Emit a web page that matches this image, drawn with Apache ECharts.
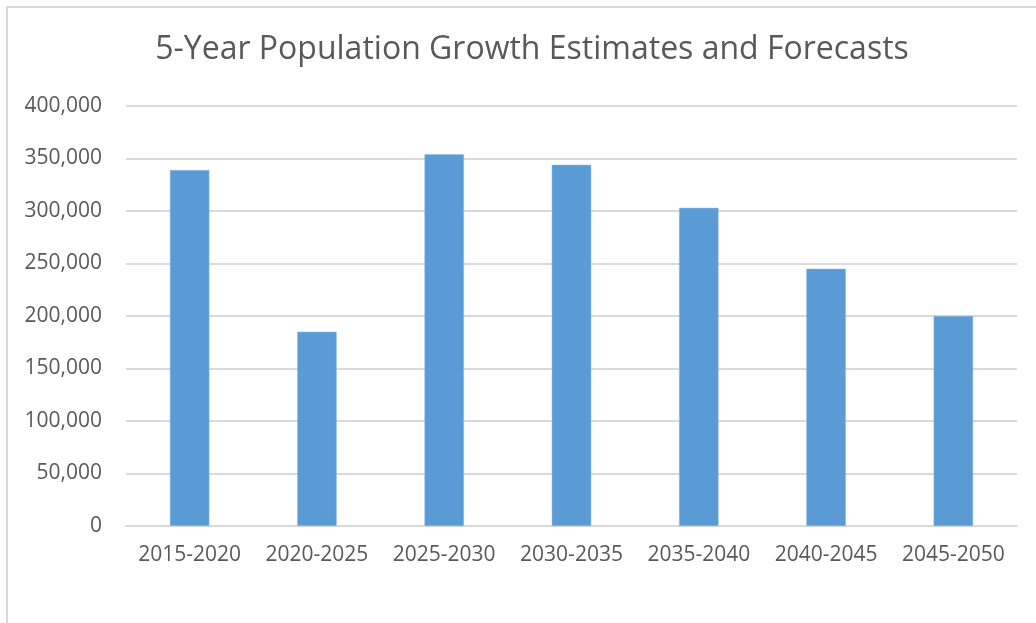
<!DOCTYPE html>
<html>
<head>
<meta charset="utf-8">
<script src="https://cdn.jsdelivr.net/npm/echarts@6/dist/echarts.min.js"></script>
<style>
html,body{margin:0;padding:0;background:#fff;}
#frame{position:absolute;left:6px;top:6px;width:1100px;height:700px;border-top:2px solid #d9d9d9;border-left:2px solid #d9d9d9;}
#chart{position:absolute;left:0;top:0;width:1036px;height:623px;}
</style>
</head>
<body>
<div id="frame"></div>
<div id="chart"></div>
<script>
const titleText = "5-Year Population Growth Estimates and Forecasts";
const categories = ["2015-2020","2020-2025","2025-2030","2030-2035","2035-2040","2040-2045","2045-2050"];
const growth = [339000,185000,354000,344000,303000,245000,200000];
const yMin = 0, yMax = 400000, yStep = 50000;

const chart = echarts.init(document.getElementById('chart'), null, {renderer:'canvas'});
const font = '"Open Sans", "Noto Sans", sans-serif';
chart.setOption({
  backgroundColor: 'transparent',
  animation: false,
  title: {
    text: titleText,
    left: 527, top: 29, textAlign: 'center',
    textStyle: {fontFamily: font, fontSize: 32, fontWeight: 'normal', color: '#595959'}
  },
  grid: {left: 126, right: 19, top: 106, bottom: 97, containLabel: false},
  xAxis: {
    type: 'category', data: categories,
    axisLine: {lineStyle: {color: '#d9d9d9', width: 2}},
    axisTick: {show: false},
    axisLabel: {interval: 0, hideOverlap: false, fontFamily: font, fontSize: 21, color: '#595959', margin: 19}
  },
  yAxis: {
    type: 'value', min: yMin, max: yMax, interval: yStep,
    axisLine: {show: false}, axisTick: {show: false},
    splitLine: {lineStyle: {color: '#d9d9d9', width: 2}},
    axisLabel: {fontFamily: font, fontSize: 21, color: '#595959', margin: 24,
      formatter: v => v.toLocaleString('en-US')}
  },
  series: [{
    type: 'bar', data: growth, barWidth: '31%',
    itemStyle: {color: '#5B9BD5', borderColor: '#8fbbe6', borderWidth: 0.5}
  }]
});
</script>
</body>
</html>
